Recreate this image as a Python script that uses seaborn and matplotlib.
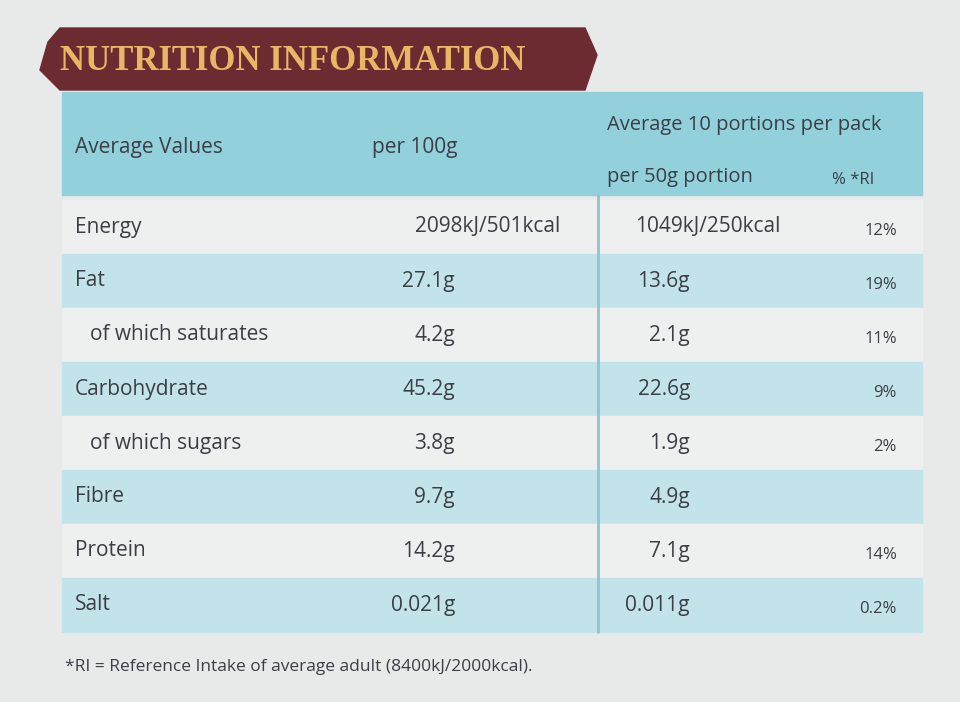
import matplotlib.pyplot as plt
import seaborn as sns
from matplotlib.patches import Rectangle, Polygon

sns.set_theme(style="white")
plt.rcParams["font.family"] = ["Open Sans", "DejaVu Sans"]

# Table data
nutrients = ["Energy", "Fat", "of which saturates", "Carbohydrate", "of which sugars",
             "Fibre", "Protein", "Salt"]
per_100g = ["2098kJ/501kcal", "27.1g", "4.2g", "45.2g", "3.8g", "9.7g", "14.2g", "0.021g"]
per_portion = ["1049kJ/250kcal", "13.6g", "2.1g", "22.6g", "1.9g", "4.9g", "7.1g", "0.011g"]
ri_pct = ["12%", "19%", "11%", "9%", "2%", "", "14%", "0.2%"]
indented = [False, False, True, False, True, False, False, False]

bg = "#e8eaea"
blue_head = "#92d0dc"
blue_row = "#c2e3ea"
white_row = "#eef0ef"
text_col = "#3a3f45"

fig = plt.figure(figsize=(9.6, 7.02), dpi=100, facecolor=bg)
ax = fig.add_axes([0, 0, 1, 1])
ax.set_xlim(0, 960)
ax.set_ylim(702, 0)
ax.axis("off")
ax.set_facecolor(bg)

# banner
ax.add_patch(Polygon([[48, 42], [60, 28], [585, 28], [597, 55], [585, 90], [60, 90], [40, 70]],
                     closed=True, color="#6c2b31", zorder=3))
ax.text(60, 62, "NUTRITION INFORMATION", color="#e9b665", fontsize=25, fontweight="bold",
        family=["Liberation Serif", "DejaVu Serif"], va="center", zorder=4)

# header
ax.add_patch(Rectangle((62, 92), 860, 103, color=blue_head, zorder=1))
ax.text(75, 147, "Average Values", fontsize=15, color=text_col, va="center")
ax.text(372, 147, "per 100g", fontsize=15, color=text_col, va="center")
ax.text(607, 125, "Average 10 portions per pack", fontsize=14.5, color=text_col, va="center")
ax.text(607, 177, "per 50g portion", fontsize=14.5, color=text_col, va="center")
ax.text(832, 180, "% *RI", fontsize=12, color=text_col, va="center")

# rows
row_top = 200
row_h = 54
for i, name in enumerate(nutrients):
    y0 = row_top + i * row_h
    color = blue_row if i % 2 == 1 else white_row
    ax.add_patch(Rectangle((62, y0), 860, row_h, color=color, zorder=1))
    yc = y0 + row_h / 2
    ax.text(90 if indented[i] else 75, yc, name, fontsize=15, color=text_col, va="center", zorder=2)
    ax.text(455 if i else 560, yc, per_100g[i], fontsize=15, color=text_col, va="center",
            ha="right", zorder=2)
    ax.text(690 if i else 780, yc, per_portion[i], fontsize=15, color=text_col, va="center",
            ha="right", zorder=2)
    ax.text(897, yc + 4, ri_pct[i], fontsize=12, color=text_col, va="center", ha="right", zorder=2)

ax.plot([598, 598], [195, row_top + len(nutrients) * row_h], color="#8fc4cf", lw=2, zorder=2)

ax.text(65, 667, "*RI = Reference Intake of average adult (8400kJ/2000kcal).", fontsize=12.5,
        color=text_col, va="center")

fig.savefig("out.png", dpi=100, facecolor=bg)
